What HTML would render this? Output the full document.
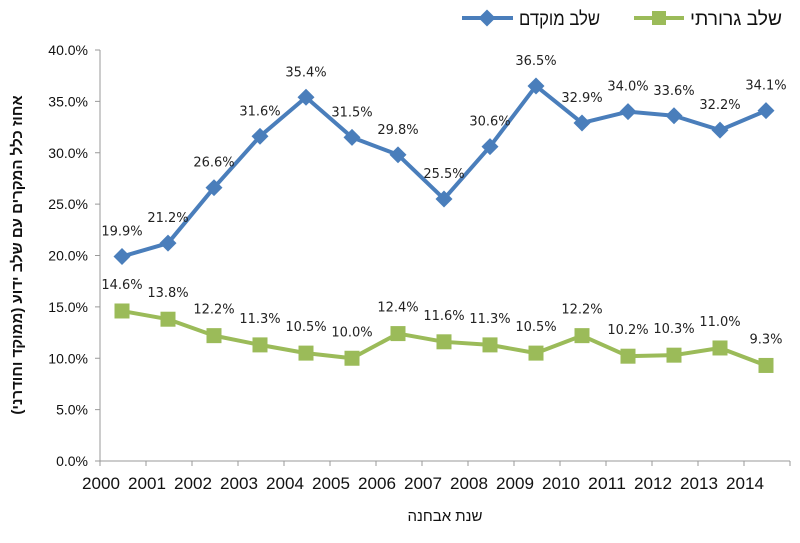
<!DOCTYPE html>
<html><head><meta charset="utf-8"><style>
html,body{margin:0;padding:0;background:#fff;}
svg{display:block;}
.yt{font-family:"Liberation Sans",sans-serif;font-size:14px;fill:#111;}
.xt{font-family:"Liberation Sans",sans-serif;font-size:17px;fill:#111;}
.dl{font-family:"DejaVu Sans",sans-serif;font-size:13px;fill:#222;}
.he{font-family:"Liberation Sans","Noto Sans CJK SC",sans-serif;}
</style></head><body>
<svg width="800" height="543" viewBox="0 0 800 543" xmlns="http://www.w3.org/2000/svg">
<g stroke="#999" stroke-width="1">
<line x1="100" y1="50" x2="100" y2="461"/>
<line x1="100" y1="461" x2="790" y2="461"/>
</g>
<g id="yt" class="yt" text-anchor="end"></g>
<g id="ticks" stroke="#999"></g>
<g id="xt" class="xt" text-anchor="middle"></g>
<g id="series"></g>
<text class="he" x="445" y="521" text-anchor="middle" font-size="15" fill="#111">שנת אבחנה</text>
<text class="he" transform="translate(22,255) rotate(-90)" text-anchor="middle" font-size="15" font-weight="bold" fill="#111">אחוז כלל המקרים עם שלב ידוע (ממוקד וחודרני)</text>
<line x1="462" y1="18" x2="513" y2="18" stroke="#4a7ebb" stroke-width="4"/>
<rect x="481" y="12" width="12" height="12" fill="#4a7ebb" transform="rotate(45 487 18)"/>
<text class="he" x="600" y="25" text-anchor="end" font-size="19" textLength="81" lengthAdjust="spacingAndGlyphs" fill="#111">שלב מוקדם</text>
<line x1="634" y1="18" x2="684" y2="18" stroke="#9bbb59" stroke-width="4"/>
<rect x="652" y="11" width="14" height="14" fill="#9bbb59"/>
<text class="he" x="782" y="25" text-anchor="end" font-size="19" textLength="92" lengthAdjust="spacingAndGlyphs" fill="#111">שלב גרורתי</text>
</svg>
<script>
var ns="http://www.w3.org/2000/svg";
function el(t,a,p,txt){var e=document.createElementNS(ns,t);for(var k in a)e.setAttribute(k,a[k]);if(txt!=null)e.textContent=txt;document.getElementById(p).appendChild(e);return e;}
function Y(v){return 461-v*(411/40);}
for(var i=0;i<=8;i++){var v=i*5;el('text',{x:88,y:Y(v)+5},'yt',v.toFixed(1)+'%');el('line',{x1:95,y1:Y(v),x2:100,y2:Y(v)},'ticks');}
for(var i=0;i<=15;i++){var x=100+i*46;el('line',{x1:x,y1:461,x2:x,y2:466},'ticks');}
for(var i=0;i<15;i++){el('text',{x:101+i*46,y:489,textLength:38,lengthAdjust:'spacingAndGlyphs'},'xt',String(2000+i));}
var b=[19.9,21.2,26.6,31.6,35.4,31.5,29.8,25.5,30.6,36.5,32.9,34.0,33.6,32.2,34.1];
var g=[14.6,13.8,12.2,11.3,10.5,10.0,12.4,11.6,11.3,10.5,12.2,10.2,10.3,11.0,9.3];
function X(i){return 122+i*46;}
function line(d,c){var p=d.map(function(v,i){return X(i)+','+Y(v)}).join(' ');el('polyline',{points:p,fill:'none',stroke:c,'stroke-width':4,'stroke-linejoin':'round'},'series');}
line(b,'#4a7ebb');line(g,'#9bbb59');
b.forEach(function(v,i){var x=X(i),y=Y(v);el('rect',{x:x-6,y:y-6,width:12,height:12,fill:'#4a7ebb',transform:'rotate(45 '+x+' '+y+')'},'series');el('text',{x:x,y:y-21,'text-anchor':'middle','class':'dl'},'series',v.toFixed(1)+'%');});
g.forEach(function(v,i){var x=X(i),y=Y(v);el('rect',{x:x-7.5,y:y-7.5,width:15,height:15,fill:'#9bbb59'},'series');el('text',{x:x,y:y-22,'text-anchor':'middle','class':'dl'},'series',v.toFixed(1)+'%');});
</script>
</body></html>
